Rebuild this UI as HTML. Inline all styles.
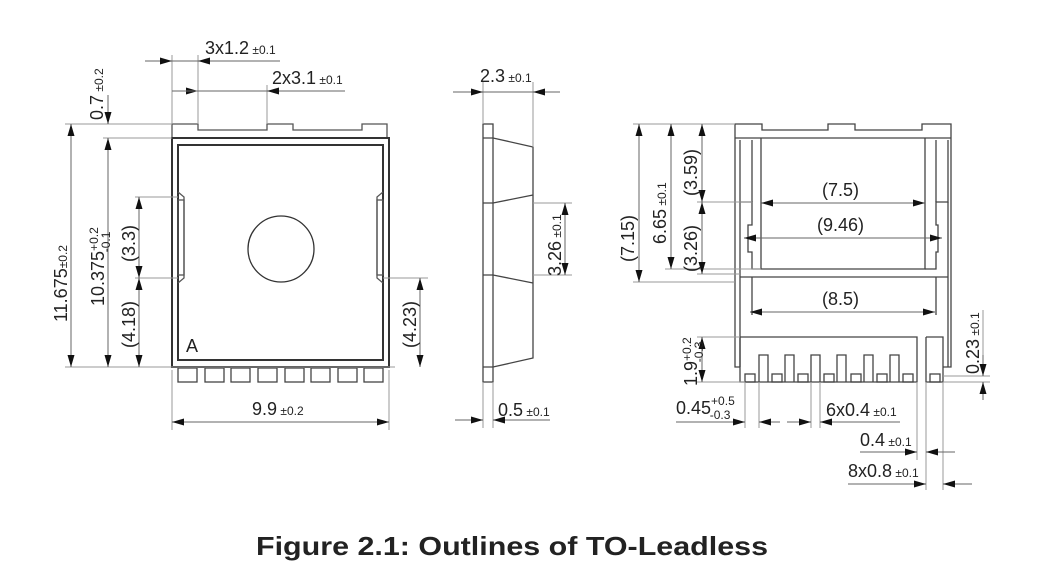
<!DOCTYPE html>
<html><head><meta charset="utf-8"><style>
html,body{margin:0;padding:0;background:#fff}
svg{display:block}
text{font-family:"Liberation Sans",Arial,sans-serif;fill:#222}
</style></head><body>
<svg width="1058" height="580" viewBox="0 0 1058 580" xmlns="http://www.w3.org/2000/svg">
<defs>
<marker id="a" viewBox="0 0 12 7" refX="12" refY="3.5" markerWidth="12" markerHeight="7" markerUnits="userSpaceOnUse" orient="auto-start-reverse"><path d="M0,0L12,3.5L0,7z" fill="#111"/></marker>
</defs>
<g fill="none" stroke="#555" stroke-width="1.3">
<path d="M172,138V124H198V130H267V124H293V130H362V124H387V138"/>
<rect x="172" y="138" width="217" height="229" stroke-width="2" stroke="#333"/>
<path d="M178,145H383V360H178Z" stroke-width="2" stroke="#333"/>
<path d="M178,192L184,197V278L178,283" />
<path d="M383,192L377,197V278L383,283" />
<rect x="178" y="200" width="6" height="75"/>
<rect x="377" y="200" width="6" height="75"/>
<circle cx="281" cy="249" r="33" stroke="#333"/>
<g stroke="#444">
<rect x="178" y="368" width="19" height="14"/><rect x="205" y="368" width="19" height="14"/><rect x="231" y="368" width="19" height="14"/><rect x="258" y="368" width="19" height="14"/><rect x="285" y="368" width="19" height="14"/><rect x="311" y="368" width="19" height="14"/><rect x="338" y="368" width="19" height="14"/><rect x="364" y="368" width="19" height="14"/>
</g>
<g stroke="#999" stroke-width="1">
<path d="M65,124H172M103,138H172M65,367H395M172,55V124M198,55V124M267,85V124M172,370V430M389,370V430M135,197H178M135,278H178M383,278H428"/>
</g>
<g stroke="#666" stroke-width="1">
<path d="M71,124V367" marker-start="url(#a)" marker-end="url(#a)"/>
<path d="M108,138V367" marker-start="url(#a)" marker-end="url(#a)"/>
<path d="M108,95V124" marker-end="url(#a)"/>
<path d="M139,197V278" marker-start="url(#a)" marker-end="url(#a)"/>
<path d="M139,278V367" marker-start="url(#a)" marker-end="url(#a)"/>
<path d="M420,278V367" marker-start="url(#a)" marker-end="url(#a)"/>
<path d="M145,61H172" marker-end="url(#a)"/><path d="M280,61H198" marker-end="url(#a)"/><path d="M172,61H198"/>
<path d="M180,91H198" marker-end="url(#a)"/><path d="M345,91H267" marker-end="url(#a)"/><path d="M172,91H267"/>
<path d="M172,422H389" marker-start="url(#a)" marker-end="url(#a)"/>
</g>
<rect x="483" y="124" width="10" height="258" stroke="#444"/>
<path d="M483,138H493L533,147V358L493,367H483" stroke="#444"/>
<path d="M483,203H493L533,195M483,275H493L533,283" stroke="#444"/>
<g stroke="#999" stroke-width="1"><path d="M483,82V124M533,82V147M483,382V428M493,382V428M533,203H572M533,275H572"/></g>
<g stroke="#666" stroke-width="1">
<path d="M453,92H483" marker-end="url(#a)"/><path d="M560,92H533" marker-end="url(#a)"/><path d="M483,92H533"/>
<path d="M455,420H483" marker-end="url(#a)"/><path d="M550,420H493" marker-end="url(#a)"/>
<path d="M565,203V275" marker-start="url(#a)" marker-end="url(#a)"/>
</g>
<path d="M735,138V124H762V130H828V124H855V130H922V124H951V138" stroke="#444"/>
<path d="M735,138H951" stroke="#444"/>
<path d="M735,138V367H740M951,138V367H943" stroke="#444"/>
<path d="M740,140V202H752V225H748V252H752V269H761" stroke="#444"/>
<path d="M948,140V202H936V225H938V252H936V269H925" stroke="#444"/>
<path d="M752,140V202M936,140V202" stroke="#444"/>
<path d="M761,138V269H925V138" stroke="#444"/>
<path d="M740,277H948M752,277V315M936,277V315" stroke="#444"/>
<path d="M740,202V367M948,202V367" stroke="#444"/>
<path d="M740,337H917V367M926,337H943V382H926V337M740,337V382H917V367" stroke="#444"/>
<g stroke="#444">
<path d="M759,382V355H768V382M785,382V355H794V382M811,382V355H820V382M837,382V355H846V382M864,382V355H873V382M890,382V355H899V382"/>
<rect x="745" y="374" width="10" height="8"/><rect x="772" y="374" width="10" height="8"/><rect x="798" y="374" width="10" height="8"/><rect x="824" y="374" width="10" height="8"/><rect x="851" y="374" width="10" height="8"/><rect x="877" y="374" width="10" height="8"/><rect x="903" y="374" width="10" height="8"/><rect x="930" y="374" width="10" height="8"/>
</g>
<g stroke="#999" stroke-width="1">
<path d="M633,124H735M665,269H761M697,202H752M697,274H740M633,282H735M697,337H740M697,382H745M943,376H990M943,382H990M983,310V376"/>
<path d="M745,382V428M759,382V428M811,382V428M820,382V428M917,382V460M926,382V490M943,382V490"/>
</g>
<g stroke="#666" stroke-width="1">
<path d="M639,124V282" marker-start="url(#a)" marker-end="url(#a)"/>
<path d="M671,124V269" marker-start="url(#a)" marker-end="url(#a)"/>
<path d="M702,124V202" marker-start="url(#a)" marker-end="url(#a)"/>
<path d="M702,202V274" marker-start="url(#a)" marker-end="url(#a)"/>
<path d="M761,203H925" marker-start="url(#a)" marker-end="url(#a)"/>
<path d="M744,238H942" marker-start="url(#a)" marker-end="url(#a)"/>
<path d="M750,312H935" marker-start="url(#a)" marker-end="url(#a)"/>
<path d="M702,337V382" marker-start="url(#a)" marker-end="url(#a)"/>
<path d="M983,355V376" marker-end="url(#a)"/><path d="M983,400V382" marker-end="url(#a)"/>
<path d="M676,422H745" marker-end="url(#a)"/><path d="M780,422H759" marker-end="url(#a)"/>
<path d="M787,422H811" marker-end="url(#a)"/><path d="M900,422H820" marker-end="url(#a)"/>
<path d="M860,452H917" marker-end="url(#a)"/><path d="M955,452H926" marker-end="url(#a)"/>
<path d="M848,484H926" marker-end="url(#a)"/><path d="M972,484H943" marker-end="url(#a)"/>
</g>
</g>
<g font-size="18">
<text x="205" y="54">3x1.2<tspan font-size="12"> ±0.1</tspan></text>
<text x="272" y="84">2x3.1<tspan font-size="12"> ±0.1</tspan></text>
<text transform="translate(103,120) rotate(-90)">0.7<tspan font-size="12"> ±0.2</tspan></text>
<text transform="translate(67,322) rotate(-90)">11.675<tspan font-size="12">±0.2</tspan></text>
<text transform="translate(104,306) rotate(-90)">10.375<tspan font-size="12" dy="-6">+0.2</tspan><tspan font-size="12" dx="-25" dy="12">-0.1</tspan></text>
<text transform="translate(135,262) rotate(-90)">(3.3)</text>
<text transform="translate(135,348) rotate(-90)">(4.18)</text>
<text transform="translate(416,348) rotate(-90)">(4.23)</text>
<text x="186" y="352">A</text>
<text x="252" y="415">9.9<tspan font-size="12"> ±0.2</tspan></text>
<text x="480" y="82">2.3<tspan font-size="12"> ±0.1</tspan></text>
<text x="498" y="416">0.5<tspan font-size="12"> ±0.1</tspan></text>
<text transform="translate(561,276) rotate(-90)">3.26<tspan font-size="12"> ±0.1</tspan></text>
<text transform="translate(634,262) rotate(-90)">(7.15)</text>
<text transform="translate(666,244) rotate(-90)">6.65<tspan font-size="12"> ±0.1</tspan></text>
<text transform="translate(697,196) rotate(-90)">(3.59)</text>
<text transform="translate(697,272) rotate(-90)">(3.26)</text>
<text x="822" y="196">(7.5)</text>
<text x="817" y="231">(9.46)</text>
<text x="822" y="305">(8.5)</text>
<text transform="translate(697,386) rotate(-90)">1.9<tspan font-size="12" dy="-6">+0.2</tspan><tspan font-size="12" dx="-25" dy="12">-0.3</tspan></text>
<text transform="translate(979,374) rotate(-90)">0.23<tspan font-size="12"> ±0.1</tspan></text>
<text x="676" y="414">0.45<tspan font-size="12" dy="-9">+0.5</tspan><tspan font-size="12" dx="-25" dy="14">-0.3</tspan></text>
<text x="826" y="416">6x0.4<tspan font-size="12"> ±0.1</tspan></text>
<text x="860" y="446">0.4<tspan font-size="12"> ±0.1</tspan></text>
<text x="848" y="477">8x0.8<tspan font-size="12"> ±0.1</tspan></text>
</g>
<text x="256" y="555" font-size="26" font-weight="bold" fill="#111" textLength="512" lengthAdjust="spacingAndGlyphs">Figure 2.1: Outlines of TO-Leadless</text>
</svg>
</body></html>
